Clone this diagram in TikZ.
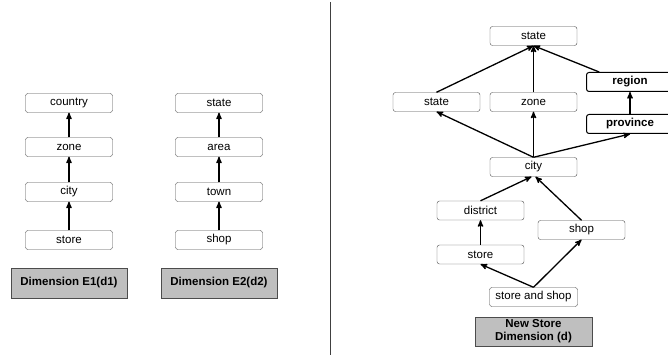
\documentclass[tikz,border=0pt]{standalone}
\usepackage{fontspec}
\setmainfont{Liberation Sans}
\usetikzlibrary{positioning, arrows}
\tikzset{
>=stealth', % sharp arrow heads
x=1pt, y=1pt, % one unit is one point
lvl/.style={draw=black!70, rounded corners=2.5pt, minimum width=87pt, minimum height=19pt, inner sep=0pt, font=\fontsize{11.5}{13}\selectfont}, % one level of a hierarchy
boldlvl/.style={lvl, draw=black, line width=1pt, font=\fontsize{11.5}{13}\selectfont\bfseries}, % levels that are new
dimbox/.style={draw=black!70, line width=0.9pt, fill=black!25, minimum width=116pt, minimum height=30pt, inner sep=0pt, align=center, font=\fontsize{11.5}{13}\selectfont\bfseries}, % caption of a dimension
link/.style={->, line width=1.3pt}, % roll-up arrow
}
\begin{document}
\begin{tikzpicture}
    \useasboundingbox (0,0) rectangle (668,358);
    % dimension E1
    \node[lvl] (store1) at (69,118) {store};
    \node[lvl, above of=store1, node distance=48pt] (city1) {city};
    \node[lvl, above of=city1, node distance=45pt] (zone1) {zone};
    \node[lvl, above of=zone1, node distance=44pt] (country) {country};
    \node[dimbox] (dimA) at (69,75) {Dimension E1(d1)};
    % dimension E2
    \node[lvl] (shop2) at (219,118) {shop};
    \node[lvl, above of=shop2, node distance=48pt] (town) {town};
    \node[lvl, above of=town, node distance=45pt] (area) {area};
    \node[lvl, above of=area, node distance=44pt] (state2) {state};
    \node[dimbox] (dimB) at (219,75) {Dimension E2(d2)};
    \path[link]
    (store1) edge (city1)
    (city1) edge (zone1)
    (zone1) edge (country)
    (shop2) edge (town)
    (town) edge (area)
    (area) edge (state2);
    % separator
    \coordinate (sepTop) at (330,356);
    \coordinate (sepBot) at (330,3);
    \draw[black!75, line width=0.8pt] (sepTop) -- (sepBot);
    % new store dimension
    \node[lvl] (cityR) at (533.5,191) {city};
    \node[lvl, above of=cityR, node distance=65pt] (zoneR) {zone};
    \node[lvl, left of=zoneR, node distance=97pt] (stateR) {state};
    \node[lvl, above of=zoneR, node distance=66pt] (top) {state};
    \node[boldlvl] (region) at (630,276) {region};
    \node[boldlvl, below of=region, node distance=42pt] (province) {province};
    \node[lvl] (district) at (480.5,147.5) {district};
    \node[lvl, below of=district, node distance=44pt] (storeR) {store};
    \node[lvl] (shopR) at (581.5,128) {shop};
    \node[lvl, minimum width=88pt] (sas) at (533.5,61) {store and shop};
    \node[dimbox, minimum height=29pt, minimum width=117pt] (dimC) at (533.5,26.5) {New Store\\Dimension (d)};
    \path[link]
    (stateR.north) edge (top.south)
    (zoneR) edge (top.south)
    (region.162) edge (top.south)
    (province) edge (region)
    (cityR.north) edge (stateR.south)
    (cityR.north) edge (zoneR.south)
    (cityR.north) edge (province.south)
    (district.north) edge ([xshift=-2pt]cityR.south)
    (shopR.north) edge ([xshift=2pt]cityR.south)
    (storeR) edge (district)
    (sas.north) edge (storeR.south)
    (sas.north) edge (shopR.south);
\end{tikzpicture}
\end{document}
